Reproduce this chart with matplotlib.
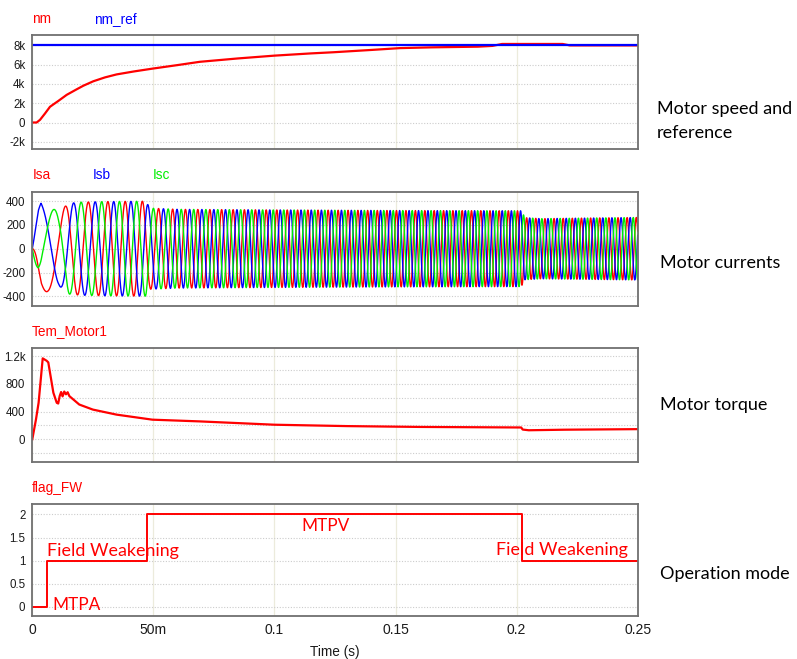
import numpy as np
import matplotlib
matplotlib.use("Agg")
import matplotlib.pyplot as plt
from matplotlib.ticker import MultipleLocator

W, H = 797, 659

# speed (rpm)
t_speed = [0, 0.0018, 0.0032, 0.0052, 0.0073, 0.0087, 0.0107, 0.0142, 0.018, 0.0211, 0.0252,
           0.03, 0.0348, 0.042, 0.0496, 0.06, 0.0692, 0.085, 0.1, 0.115, 0.1243, 0.14,
           0.1518, 0.165, 0.184, 0.19, 0.194, 0.219, 0.222, 0.25]
nm = [0, 0, 280, 920, 1630, 1880, 2230, 2870, 3400, 3820, 4280,
      4680, 4990, 5300, 5590, 5960, 6300, 6650, 6940, 7170, 7290, 7530,
      7720, 7800, 7870, 7950, 8150, 8150, 8000, 8000]
nm_ref_t = [0, 0.25]
nm_ref = [8000, 8000]

# phase current envelope (A) and electrical frequency (Hz)
t_amp = [0, 0.0025, 0.0036, 0.0065, 0.011, 0.015, 0.02, 0.03, 0.047, 0.0485, 0.06,
         0.1, 0.15, 0.2019, 0.2035, 0.21, 0.25]
amp = [0, 320, 395, 355, 310, 380, 390, 395, 398, 340, 330,
       325, 320, 318, 260, 252, 262]
t_fe = [0, 0.0036, 0.0105, 0.017, 0.026, 0.033, 0.047, 0.06, 0.1, 0.15, 0.2, 0.25]
fe = [30, 40, 70, 105, 120, 140, 142, 190, 230, 255, 265, 265]
phase0_deg = 90

# torque (Nm)
t_tq = [0, 0.0015, 0.0026, 0.0043, 0.0059, 0.0066, 0.0073, 0.0087, 0.0101, 0.0107,
        0.0113, 0.0119, 0.0125, 0.0132, 0.0139, 0.0146, 0.0153, 0.0194, 0.025, 0.0348,
        0.0496, 0.0692, 0.1, 0.13, 0.16, 0.2019, 0.2025, 0.205, 0.22, 0.25]
tq = [0, 283, 527, 1170, 1136, 1112, 965, 673, 527, 517,
      624, 683, 620, 690, 650, 680, 624, 502, 429, 356,
      283, 258, 210, 190, 178, 170, 140, 130, 138, 146]

# operation mode flag
t_flag = [0, 0.006, 0.0475, 0.2023, 0.25]
flag = [0, 1, 2, 1, 1]

x_ticks = [0, 0.05, 0.1, 0.15, 0.2, 0.25]
x_tick_labels = ['0', '50m', '0.1', '0.15', '0.2', '0.25']
speed_ticks = [-2000, 0, 2000, 4000, 6000, 8000]
speed_tick_labels = ['-2k', '0', '2k', '4k', '6k', '8k']
cur_ticks = [-400, -200, 0, 200, 400]
tq_ticks = [0, 400, 800, 1200]
tq_tick_labels = ['0', '400', '800', '1.2k']
flag_ticks = [0, 0.5, 1, 1.5, 2]
flag_tick_labels = ['0', '0.5', '1', '1.5', '2']

RED, BLUE, GREEN = '#ff0000', '#0000ff', '#00ee00'
tick_font = 'Liberation Sans'
side_font = 'Lato'

fig = plt.figure(figsize=(W / 100, H / 100), dpi=100)


def add_ax(top_px, bot_px):
    left, right = 32.3, 637.7
    return fig.add_axes([left / W, 1 - bot_px / H, (right - left) / W, (bot_px - top_px) / H])


def style(ax, yticks, ylabels, ylim, xlabels=False, yminor=None):
    ax.set_xlim(0, 0.25)
    ax.set_ylim(*ylim)
    ax.set_xticks(x_ticks)
    ax.set_yticks(yticks)
    ax.set_yticklabels(ylabels, fontfamily=tick_font, fontsize=8.3)
    if xlabels:
        ax.set_xticklabels(x_tick_labels, fontfamily=tick_font, fontsize=10)
    else:
        ax.set_xticklabels([])
    if yminor:
        ax.yaxis.set_minor_locator(MultipleLocator(yminor))
        ax.grid(True, axis='y', which='minor', color='#cccccc', linestyle=(0, (1, 1.5)), linewidth=0.8)
    ax.tick_params(length=0, pad=5, colors='#1a1a1a', which='both')
    ax.tick_params(axis='x', pad=5)
    ax.grid(True, axis='y', color='#cccccc', linestyle=(0, (1, 1.5)), linewidth=0.8)
    ax.grid(True, axis='x', color='#ecebdc', linestyle='-', linewidth=0.9)
    ax.set_axisbelow(True)
    for s in ax.spines.values():
        s.set_color('#707070')
        s.set_linewidth(1.3)


# panel 1: speed
ax1 = add_ax(35.3, 149)
ax1.plot(t_speed, nm, color=RED, lw=1.6)
ax1.plot(nm_ref_t, nm_ref, color=BLUE, lw=1.6)
style(ax1, speed_ticks, speed_tick_labels, (-2750, 9050))

# panel 2: currents
t = np.linspace(0, 0.25, 30001)
A = np.interp(t, t_amp, amp)
f = np.interp(t, t_fe, fe)
theta = np.deg2rad(phase0_deg) + 2 * np.pi * np.concatenate([[0], np.cumsum((f[1:] + f[:-1]) / 2 * np.diff(t))])
isa = A * np.cos(theta)
isb = A * np.cos(theta - 2 * np.pi / 3)
isc = A * np.cos(theta + 2 * np.pi / 3)
ax2 = add_ax(191.7, 305.7)
ax2.plot(t, isa, color=RED, lw=1.0)
ax2.plot(t, isb, color=BLUE, lw=1.0)
ax2.plot(t, isc, color=GREEN, lw=1.0)
style(ax2, cur_ticks, [str(v) for v in cur_ticks], (-478, 478))

# panel 3: torque
ax3 = add_ax(348, 461.7)
ax3.plot(t_tq, tq, color=RED, lw=1.6)
style(ax3, tq_ticks, tq_tick_labels, (-325, 1320), yminor=200)

# panel 4: flag
ax4 = add_ax(504.3, 616)
ax4.plot(t_flag, flag, color=RED, lw=1.4, drawstyle='steps-post')
style(ax4, flag_ticks, flag_tick_labels, (-0.2, 2.22), xlabels=True)
ax4.text(0.0059, 1.21, 'Field Weakening', color=RED, fontsize=12.9, fontfamily=side_font, va='center', ha='left')
ax4.text(0.0084, 0.04, 'MTPA', color=RED, fontsize=12.4, fontfamily=side_font, va='center', ha='left')
ax4.text(0.1112, 1.76, 'MTPV', color=RED, fontsize=12.4, fontfamily=side_font, va='center', ha='left')
ax4.text(0.2459, 1.22, 'Field Weakening', color=RED, fontsize=12.9, fontfamily=side_font, va='center', ha='right')


# signal names above the panels
def ftext(x, y, s, **kw):
    fig.text(x / W, 1 - y / H, s, fontfamily=tick_font, fontsize=9.8, va='center', ha='left', **kw)


ftext(32, 19, 'nm', color=RED)
ftext(94, 19, 'nm_ref', color=BLUE)
ftext(33, 175, 'Isa', color=RED)
ftext(93, 175, 'Isb', color=BLUE)
ftext(153, 175, 'Isc', color=GREEN)
ftext(32, 331, 'Tem_Motor1', color=RED)
ftext(32, 488, 'flag_FW', color=RED)

fig.text(335 / W, 1 - 652 / H, 'Time (s)', fontfamily=tick_font, fontsize=9.8, ha='center', va='center', color='#1a1a1a')


# descriptions on the right
def side(x, y, s):
    fig.text(x / W, 1 - y / H, s, fontfamily=side_font, fontsize=13, ha='left', va='center', color='black')


side(657, 109, 'Motor speed and')
side(657, 133, 'reference')
side(660, 263, 'Motor currents')
side(660, 405, 'Motor torque')
side(660, 574, 'Operation mode')

fig.savefig('out.png', dpi=100)
